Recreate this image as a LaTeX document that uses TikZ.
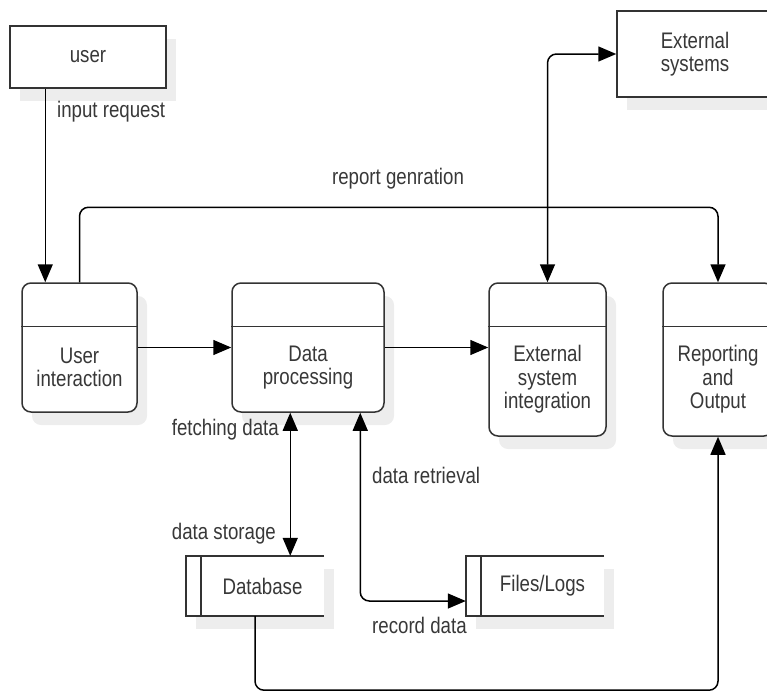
\documentclass[tikz,border=0pt]{standalone}
\usepackage{fontspec}
\setmainfont[FakeStretch=0.83]{Liberation Sans}
\usetikzlibrary{arrows.meta,shadows}

\begin{document}
\begin{tikzpicture}[x=1pt,y=-1pt,
		font=\fontsize{22.5}{23.5}\selectfont, text=black!78,
		shade/.style={drop shadow={shadow xshift=10pt,shadow yshift=-13pt,fill=black!7,opacity=1}},
		ent/.style={draw=black!80, line width=1.5pt, fill=white, align=center, inner sep=0pt, shade},
		proc/.style={ent, rounded corners=9pt},
		store/.style={fill=white, inner sep=0pt, minimum width=138pt, minimum height=60pt, shade},
		wall/.style={draw=black!80, line width=1.5pt},
		flow/.style={line width=1.5pt, rounded corners=9pt, -{Triangle[length=18pt,width=15pt]}},
		biflow/.style={flow, {Triangle[length=18pt,width=15pt]}-{Triangle[length=18pt,width=15pt]}},
		lbl/.style={inner sep=0pt}]
		\clip (0,0) rectangle (767,691);
		\node (user)[ent, minimum width=156pt, minimum height=62pt] at (88,57) {user};
		\node (ext)[ent, minimum width=156pt, minimum height=86pt] at (695,54) {External\\systems};
		\node (ui)[proc, minimum width=115pt, minimum height=129pt] at (79.5,347.5) {};
		\node (dp)[proc, minimum width=152pt, minimum height=129pt] at (308,347.5) {};
		\node (ei)[proc, minimum width=117pt, minimum height=153pt] at (547.5,359.5) {};
		\node (rep)[proc, minimum width=110pt, minimum height=153pt] at (718,359.5) {};
		\draw[wall] ([yshift=-44pt]ui.north west)--([yshift=-44pt]ui.north east);
		\draw[wall] ([yshift=-44pt]dp.north west)--([yshift=-44pt]dp.north east);
		\draw[wall] ([yshift=-44pt]ei.north west)--([yshift=-44pt]ei.north east);
		\draw[wall] ([yshift=-44pt]rep.north west)--([yshift=-44pt]rep.north east);
		\node (ui-t)[align=center] at ([yshift=-20pt]ui.center) {User\\interaction};
		\node (dp-t)[align=center] at ([yshift=-20pt]dp.center) {Data\\processing};
		\node (ei-t)[align=center] at ([yshift=-20pt]ei.center) {External\\system\\integration};
		\node (rep-t)[align=center] at ([yshift=-20pt]rep.center) {Reporting\\and\\Output};
		\node (db)[store] at (255,586) {\hspace*{15pt}Database};
		\node (files)[store] at (535,586) {\hspace*{15pt}Files/Logs};
		\draw[wall] (db.north east)--(db.north west)--(db.south west)--(db.south east);
		\draw[wall] ([xshift=15pt]db.north west)--([xshift=15pt]db.south west);
		\draw[wall] (files.north east)--(files.north west)--(files.south west)--(files.south east);
		\draw[wall] ([xshift=15pt]files.north west)--([xshift=15pt]files.south west);
		\draw[flow] ([xshift=36pt]user.south west)--([xshift=36pt]user.south west |- ui.north);
		\draw[flow] (ui.north)--++(0,-75)-|(rep.north);
		\draw[flow] (ui)--(dp);
		\draw[flow] (dp.east)--(dp.east -| ei.west);
		\draw[biflow] (ei.north)|-(ext.west);
		\draw[biflow] ([xshift=59pt]dp.south west)--([xshift=59pt]dp.south west |- db.north);
		\draw[biflow] ([xshift=129pt]dp.south west)|-([yshift=-15pt]files.west);
		\draw[flow] (db.south)--++(0,74)-|(rep.south);
		\node (l1)[lbl, anchor=west] at (57,112) {input request};
		\node (l2)[lbl] at (398,179) {report genration};
		\node (l3)[lbl, anchor=east] at (279,430) {fetching data};
		\node (l4)[lbl, anchor=west] at (372,475) {data retrieval};
		\node (l5)[lbl, anchor=east] at (276,534) {data storage};
		\node (l6)[lbl, anchor=west] at (372,625) {record data};
	\end{tikzpicture}
\end{document}
